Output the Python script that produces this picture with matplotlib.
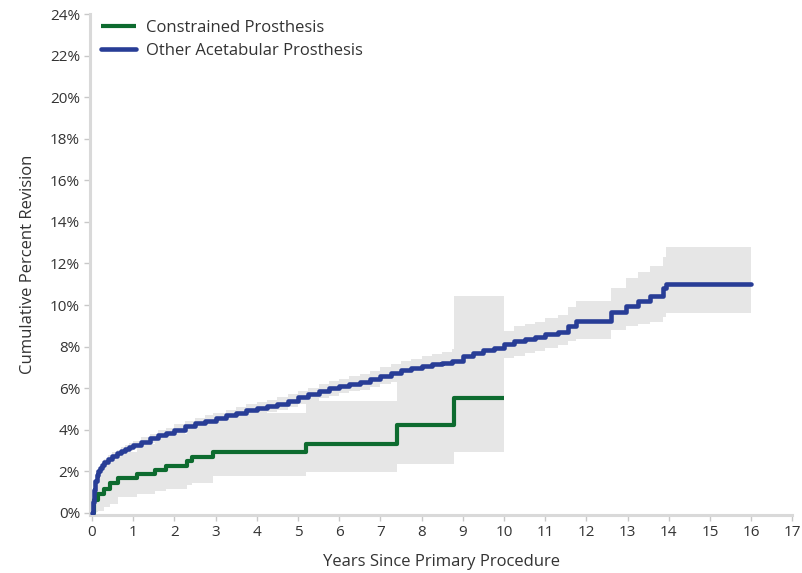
import matplotlib
matplotlib.use("Agg")
import matplotlib.pyplot as plt
from matplotlib.ticker import FuncFormatter

plt.rcParams['font.family'] = ['Open Sans', 'DejaVu Sans']

# Constrained prosthesis: cumulative percent revision (Kaplan-Meier steps)
con_years = [0, 0.05, 0.15, 0.3, 0.44, 0.63, 1.1, 1.52, 1.8, 2.3, 2.42, 2.93, 5.2, 7.4, 8.78, 10.0]
con_cpr   = [0, 0.6, 0.9, 1.15, 1.45, 1.65, 1.87, 2.07, 2.26, 2.5, 2.7, 2.94, 3.3, 4.22, 5.5, 5.5]
con_lower = [0, 0.05, 0.1, 0.25, 0.4, 0.75, 0.9, 1.05, 1.15, 1.35, 1.45, 1.75, 1.95, 2.35, 2.9, 2.9]
con_upper = [0, 1.4, 2.1, 2.5, 2.7, 2.9, 3.3, 3.6, 3.8, 4.1, 4.2, 4.78, 5.4, 6.9, 10.45, 10.45]

# Other acetabular prosthesis
oth_years = [0, 0.02, 0.05, 0.08, 0.12, 0.16, 0.2, 0.25, 0.3, 0.4, 0.5, 0.6, 0.7, 0.8,
             0.9, 1.0, 1.2, 1.4, 1.6, 1.8, 2.0, 2.25, 2.5, 2.75, 3.0, 3.25, 3.5, 3.75,
             4.0, 4.25, 4.5, 4.75, 5.0, 5.25, 5.5, 5.75, 6.0, 6.25, 6.5, 6.75, 7.0,
             7.25, 7.5, 7.75, 8.0, 8.25, 8.5, 8.75, 9.0, 9.25, 9.5, 9.75, 10.0, 10.25,
             10.5, 10.75, 11.0, 11.3, 11.55, 11.75, 12.6, 12.96, 13.25, 13.54, 13.86,
             13.93, 16.0]
oth_cpr   = [0, 0.5, 1.1, 1.5, 1.8, 2.0, 2.15, 2.3, 2.45, 2.6, 2.75, 2.85, 2.95, 3.05,
             3.15, 3.25, 3.42, 3.58, 3.72, 3.85, 4.0, 4.15, 4.3, 4.42, 4.55, 4.68, 4.8,
             4.92, 5.02, 5.13, 5.25, 5.4, 5.55, 5.7, 5.85, 5.98, 6.1, 6.2, 6.3, 6.45,
             6.6, 6.72, 6.85, 6.97, 7.08, 7.15, 7.22, 7.32, 7.55, 7.7, 7.85, 7.95, 8.1,
             8.25, 8.35, 8.45, 8.6, 8.7, 9.0, 9.25, 9.64, 9.97, 10.2, 10.45, 10.8,
             11.0, 11.0]
oth_lower = [0, 0.45, 1.0, 1.4, 1.7, 1.9, 2.05, 2.2, 2.33, 2.48, 2.6, 2.7, 2.79, 2.88,
             2.97, 3.06, 3.22, 3.37, 3.5, 3.62, 3.76, 3.9, 4.04, 4.16, 4.29, 4.41, 4.52,
             4.63, 4.73, 4.83, 4.95, 5.09, 5.24, 5.38, 5.52, 5.64, 5.75, 5.84, 5.93,
             6.06, 6.2, 6.3, 6.42, 6.52, 6.61, 6.66, 6.7, 6.78, 6.96, 7.08, 7.2, 7.28,
             7.45, 7.55, 7.7, 7.8, 7.95, 8.05, 8.25, 8.35, 8.8, 9.0, 9.1, 9.2, 9.4,
             9.6, 9.6]
oth_upper = [0, 0.55, 1.2, 1.6, 1.9, 2.1, 2.27, 2.43, 2.6, 2.76, 2.92, 3.03, 3.14, 3.25,
             3.36, 3.46, 3.64, 3.81, 3.96, 4.1, 4.26, 4.42, 4.57, 4.69, 4.82, 4.95, 5.08,
             5.21, 5.31, 5.43, 5.55, 5.71, 5.86, 6.02, 6.18, 6.32, 6.45, 6.56, 6.67,
             6.84, 7.0, 7.14, 7.28, 7.42, 7.55, 7.64, 7.74, 7.86, 8.14, 8.32, 8.5, 8.62,
             8.77, 8.97, 9.07, 9.17, 9.37, 9.52, 9.9, 10.2, 10.8, 11.3, 11.6, 11.9, 12.3,
             12.8, 12.8]

x_ticks = list(range(0, 18))
y_ticks = list(range(0, 26, 2))

green = "#0d6b2f"
blue = "#283d96"
band = "#e6e6e6"
text_col = "#333333"
fs = 12

fig = plt.figure(figsize=(8.02, 5.73), dpi=100)
ax = fig.add_axes([0.112, 0.101, 0.876, 0.874])

ax.fill_between(oth_years, oth_lower, oth_upper, step="post", color=band, lw=0, zorder=1)
ax.fill_between(con_years, con_lower, con_upper, step="post", color=band, lw=0, zorder=1)

ax.step(con_years, con_cpr, where="post", color=green, lw=3.0, zorder=3,
        label="Constrained Prosthesis", solid_capstyle="butt")
ax.step(oth_years, oth_cpr, where="post", color=blue, lw=3.3, zorder=4,
        label="Other Acetabular Prosthesis", solid_capstyle="round")

ax.set_xlim(-0.05, 17)
ax.set_ylim(-0.12, 24)
ax.set_xticks(x_ticks)
ax.set_yticks(y_ticks)
ax.yaxis.set_major_formatter(FuncFormatter(lambda v, p: f"{int(v)}%"))

for s in ["top", "right"]:
    ax.spines[s].set_visible(False)
for s in ["left", "bottom"]:
    ax.spines[s].set_color("#d9d9d9")
    ax.spines[s].set_linewidth(2.2)

ax.tick_params(axis="both", colors="#c8c8c8", length=4, width=1,
               labelcolor=text_col, labelsize=11, pad=3)

ax.set_xlabel("Years Since Primary Procedure", fontsize=fs, color=text_col, labelpad=10)
ax.set_ylabel("Cumulative Percent Revision", fontsize=fs, color=text_col, labelpad=10)

leg = ax.legend(loc="upper left", bbox_to_anchor=(0.0, 1.012), frameon=False,
                fontsize=fs, handlelength=2.1, handletextpad=0.6,
                labelspacing=0.42, borderaxespad=0.3)
for t in leg.get_texts():
    t.set_color(text_col)

fig.savefig("out.png", dpi=100)
